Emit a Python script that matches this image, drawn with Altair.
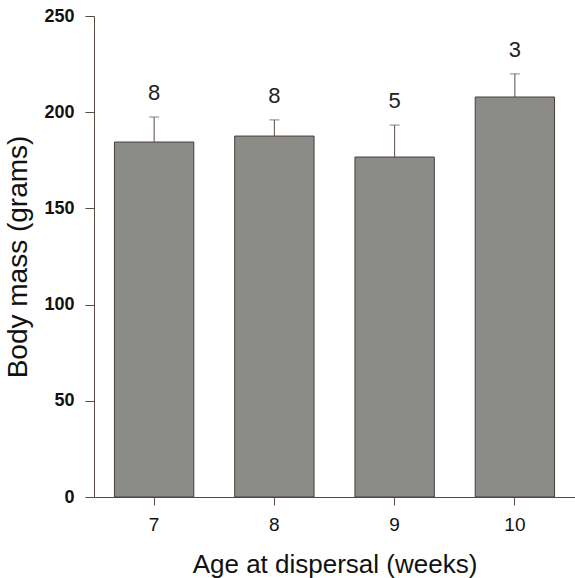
import altair as alt
import pandas as pd

ages = ["7", "8", "9", "10"]
mass = [184.5, 187.6, 176.7, 207.9]
err_top = [197.5, 196.0, 193.3, 219.9]
n_labels = ["8", "8", "5", "3"]

df = pd.DataFrame({"age": ages, "mass": mass, "err": err_top, "n": n_labels})

FONT = "Liberation Sans"
AX = "#5a4a46"

x = alt.X("age:N", sort=ages,
          scale=alt.Scale(paddingInner=0.34, paddingOuter=0.17),
          axis=alt.Axis(title="Age at dispersal (weeks)", labelAngle=0,
                        labelFont=FONT, labelFontSize=19, labelColor="#111",
                        titleFont=FONT, titleFontSize=26, titleFontWeight="normal",
                        titleColor="#111", titlePadding=17,
                        domainColor=AX, tickColor=AX, tickSize=8,
                        labelPadding=10))
y_axis = alt.Axis(title="Body mass (grams)", values=[0, 50, 100, 150, 200, 250],
                  labelFont=FONT, labelFontSize=18, labelFontWeight="bold",
                  labelColor="#111", titleFont=FONT, titleFontSize=28,
                  titleFontWeight="normal", titleColor="#111", titlePadding=11,
                  domainColor=AX, tickColor=AX, tickSize=9, labelPadding=11,
                  grid=False)
yscale = alt.Scale(domain=[0, 250], nice=False, zero=True)

base = alt.Chart(df)

bars = base.mark_bar(color="#8b8b88", stroke="#4a3e3c", strokeWidth=1).encode(
    x=x,
    y=alt.Y("mass:Q", scale=yscale, axis=y_axis),
)
rule = base.mark_rule(color=AX, strokeWidth=1).encode(
    x=alt.X("age:N", sort=ages), y="mass:Q", y2="err:Q")
cap = base.mark_tick(color=AX, thickness=1, size=10).encode(
    x=alt.X("age:N", sort=ages), y="err:Q")
text = base.mark_text(font=FONT, fontSize=22, color="#222", baseline="bottom",
                      dy=-12).encode(
    x=alt.X("age:N", sort=ages), y="err:Q", text="n:N")

chart = alt.layer(bars, rule, cap, text).properties(
    width=481, height=481,
    autosize=alt.AutoSizeParams(type="none"),
    padding={"left": 94, "top": 16, "right": 0, "bottom": 81},
    background="white",
).configure_view(stroke=None)

chart.save("out.html", embed_options={"renderer": "svg", "actions": False})
